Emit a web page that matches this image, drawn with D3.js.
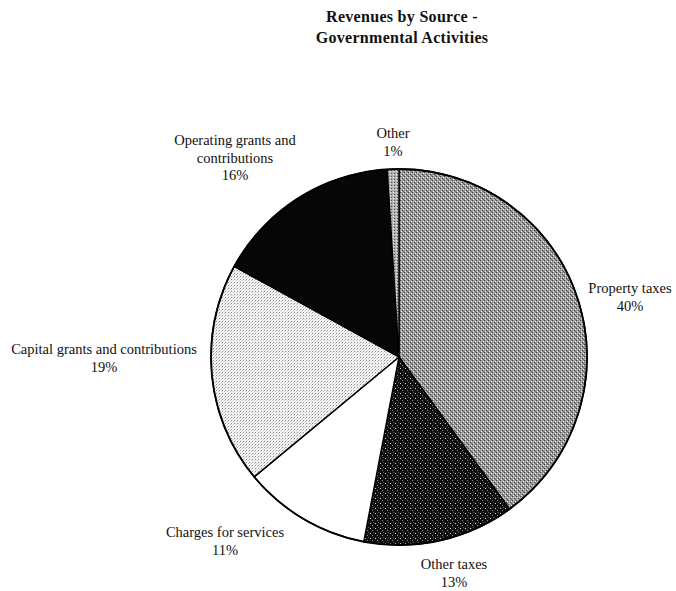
<!DOCTYPE html>
<html>
<head>
<meta charset="utf-8">
<script src="https://cdn.jsdelivr.net/npm/d3@7/dist/d3.min.js"></script>
<style>
  html, body { margin: 0; padding: 0; background: #fff; }
  svg { display: block; }
  text { font-family: "Liberation Serif", "Times New Roman", serif; fill: #111; }
</style>
</head>
<body>
<svg id="chart" width="676" height="591"></svg>
<script>
// Revenue sources, in drawing order (clockwise from 12 o'clock)
const categories = [
  "Property taxes",
  "Other taxes",
  "Charges for services",
  "Capital grants and contributions",
  "Operating grants and contributions",
  "Other"
];
const shares = [40, 13, 11, 19, 16, 1];
const labelLines = [
  ["Property taxes"],
  ["Other taxes"],
  ["Charges for services"],
  ["Capital grants and contributions"],
  ["Operating grants and", "contributions"],
  ["Other"]
];
const titleLines = ["Revenues by Source -", "Governmental Activities"];

const W = 676, H = 591;
const cx = 399, cy = 357, R = 188;
const svg = d3.select("#chart");

// Halftone-like fills
const defs = svg.append("defs");
function pattern(id, size, bg, dots) {
  const p = defs.append("pattern").attr("id", id)
    .attr("patternUnits", "userSpaceOnUse").attr("width", size).attr("height", size);
  p.append("rect").attr("width", size).attr("height", size).attr("fill", bg);
  dots.forEach(([x, y, c]) => p.append("rect").attr("x", x).attr("y", y)
    .attr("width", 1).attr("height", 1).attr("fill", c));
  return `url(#${id})`;
}
const fills = [
  pattern("pProperty", 4, "#999999", [[0,0,"#e4e4e4"],[2,2,"#e4e4e4"],[1,3,"#444"],[3,1,"#444"],[2,0,"#c8c8c8"],[0,2,"#666"]]),
  pattern("pOtherTax", 5, "#101010", [[1,1,"#d8d8d8"],[3,3,"#8a8a8a"],[4,0,"#555"]]),
  "#ffffff",
  pattern("pCapital", 3, "#f6f6f6", [[0,0,"#8a8a8a"],[2,1,"#c4c4c4"],[1,2,"#dddddd"]]),
  "#060606",
  pattern("pOther", 3, "#b0b0b0", [[0,0,"#eee"],[1,2,"#555"]])
];

const pie = d3.pie().sort(null).value(d => d)
  .startAngle(0).endAngle(2 * Math.PI);
const arcs = pie(shares);
const arc = d3.arc().innerRadius(0).outerRadius(R);

const g = svg.append("g").attr("transform", `translate(${cx},${cy})`);
g.selectAll("path.slice").data(arcs).join("path")
  .attr("class", "slice")
  .attr("d", arc)
  .attr("fill", (d, i) => fills[i])
  .attr("stroke", "#000")
  .attr("stroke-width", 1.4)
  .attr("stroke-linejoin", "round");

// Outer rim
g.append("circle").attr("r", R).attr("fill", "none")
  .attr("stroke", "#000").attr("stroke-width", 1.8);

// Title
svg.append("g").selectAll("text").data(titleLines).join("text")
  .attr("x", 402).attr("y", (d, i) => 22 + i * 21)
  .attr("text-anchor", "middle")
  .attr("font-size", 16).attr("font-weight", "bold")
  .attr("letter-spacing", 0.3)
  .text(d => d);

// Label anchors (centre x, first baseline) for each slice
const labelPos = [
  [630, 293], [454, 569], [225, 537], [104, 354], [235, 145], [393, 138]
];
const lineGap = 17.5;
const lbl = svg.append("g").selectAll("g.label").data(arcs).join("g").attr("class", "label");
lbl.each(function (d, i) {
  const [x, y] = labelPos[i];
  const lines = labelLines[i].concat([d.data + "%"]);
  d3.select(this).selectAll("text").data(lines).join("text")
    .attr("x", x).attr("y", (t, k) => y + k * lineGap)
    .attr("text-anchor", "middle")
    .attr("font-size", 14.5)
    .text(t => t);
});
</script>
</body>
</html>
